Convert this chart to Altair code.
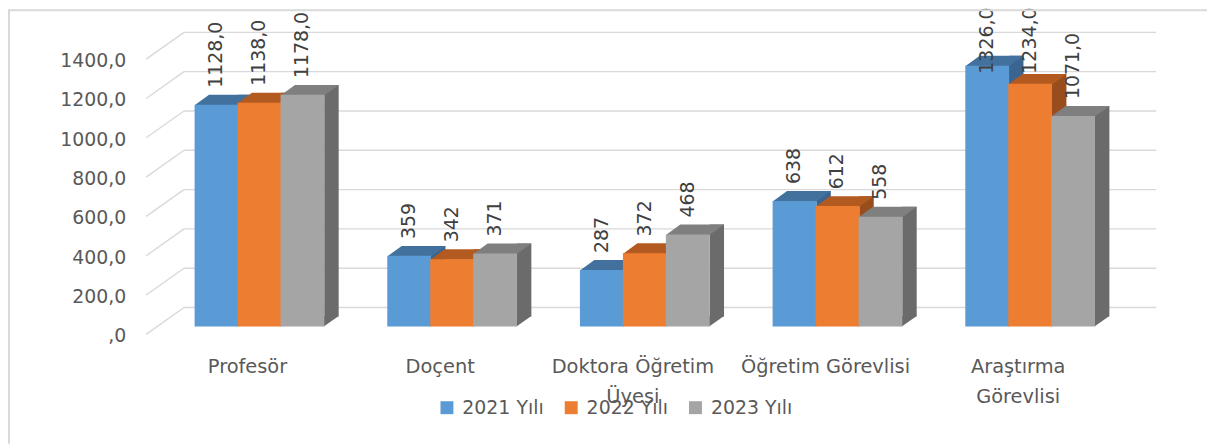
import altair as alt
import pandas as pd

# ---------------- data ----------------
categories = ["Profesör", "Doçent", "Doktora Öğretim Üyesi", "Öğretim Görevlisi", "Araştırma Görevlisi"]
category_labels = ["Profesör", "Doçent", "Doktora Öğretim\nÜyesi", "Öğretim Görevlisi", "Araştırma\nGörevlisi"]
years = ["2021 Yılı", "2022 Yılı", "2023 Yılı"]
values_2021 = [1128, 359, 287, 638, 1326]
values_2022 = [1138, 342, 372, 612, 1234]
values_2023 = [1178, 371, 468, 558, 1071]
labels_2021 = ["1128,0", "359", "287", "638", "1326,0"]
labels_2022 = ["1138,0", "342", "372", "612", "1234,0"]
labels_2023 = ["1178,0", "371", "468", "558", "1071,0"]
y_ticks = [0, 200, 400, 600, 800, 1000, 1200, 1400]
y_tick_labels = [",0", "200,0", "400,0", "600,0", "800,0", "1000,0", "1200,0", "1400,0"]

rows = []
for yi, (yr, vals, labs) in enumerate(zip(years, [values_2021, values_2022, values_2023],
                                           [labels_2021, labels_2022, labels_2023])):
    for ci, (cat, v, lab) in enumerate(zip(categories, vals, labs)):
        rows.append({"cat": cat, "ci": ci, "year": yr, "yi": yi, "value": v, "label": lab})
df = pd.DataFrame(rows)
cat_df = pd.DataFrame({"ci": list(range(len(categories))), "label": category_labels})
tick_df = pd.DataFrame({"tick": y_ticks, "label": y_tick_labels})

# ---------------- styles ----------------
W, H = 1206, 437
FONT = "DejaVu Sans"
front_colors = ["#5B9BD5", "#ED7D31", "#A5A5A5"]
top_colors = ["#41719C", "#B35A20", "#7F7F7F"]
side_colors = ["#3A6591", "#9A4D1C", "#6B6B6B"]
GRID = "#D9D9D9"
BAR_W = 44
DX, DY = 14.5, 10
STEP = 0.223

xscale = alt.Scale(domain=[-0.5, 4.5], range=[151, 1130], nice=False, zero=False)
yscale = alt.Scale(domain=[0, 1400], range=[319, 42.2], nice=False, zero=True)

base = alt.Chart(df).transform_calculate(
    xpos=f"datum.ci + (datum.yi - 1) * {STEP}",
    labY="min(datum.value, 1200)",
    zero="0",
)
X = alt.X("xpos:Q", scale=xscale, axis=None)
Y = alt.Y("value:Q", scale=yscale, axis=None)

grid = alt.Chart(tick_df).mark_rule(color=GRID, strokeWidth=1.4, yOffset=-19).encode(
    y=alt.Y("tick:Q", scale=yscale, axis=None), x=alt.value(177), x2=alt.value(1155))
diag = alt.Chart(tick_df).mark_rule(color=GRID, strokeWidth=1.4, yOffset=8, y2Offset=-19).encode(
    y=alt.Y("tick:Q", scale=yscale, axis=None), y2=alt.Y2("tick:Q"),
    x=alt.value(139), x2=alt.value(177))
ylabels = alt.Chart(tick_df).mark_text(align="right", baseline="middle", font=FONT, fontSize=19,
                                       color="#595959", yOffset=10).encode(
    y=alt.Y("tick:Q", scale=yscale, axis=None), x=alt.value(119), text="label:N")

top_path = f"M {-BAR_W/2} 0.6 L {BAR_W/2} 0.6 L {BAR_W/2 + DX} {-DY} L {-BAR_W/2 + DX} {-DY} Z"
patch_path = f"M {BAR_W/2 - 0.5} {-DY - 0.5} L {BAR_W/2 - 0.5} 0 L {BAR_W/2 + DX} {-DY - 0.5} Z"

sides, tops, patches = [], [], []
for i, yr in enumerate(years):
    sub = base.transform_filter(alt.datum.year == yr)
    sides.append(sub.mark_bar(orient="vertical", width=DX, xOffset=BAR_W / 2 + DX / 2,
                              yOffset=-DY, y2Offset=-DY, color=side_colors[i]).encode(
        x=X, y=Y, y2=alt.Y2("zero:Q")))
    tops.append(sub.mark_point(shape=top_path, size=4, filled=True, opacity=1, strokeWidth=0,
                               color=top_colors[i]).encode(x=X, y=Y))
    patches.append(sub.mark_point(shape=patch_path, size=4, filled=True, opacity=1, strokeWidth=0,
                                  color=side_colors[i]).encode(
        x=X, y=alt.Y("zero:Q", scale=yscale, axis=None)))

fronts = base.mark_bar(orient="vertical", width=BAR_W).encode(
    x=X, y=Y, y2=alt.Y2("zero:Q"),
    color=alt.Color("year:N", scale=alt.Scale(domain=years, range=front_colors),
                    legend=alt.Legend(orient="none", legendX=432, legendY=391, direction="horizontal",
                                      title=None, symbolType="square", symbolSize=169,
                                      symbolStrokeWidth=0, labelFont=FONT, labelFontSize=19,
                                      labelColor="#595959", labelOffset=6, columnPadding=18,
                                      padding=0)))

vlabels = base.mark_text(angle=270, align="left", baseline="middle", font=FONT, fontSize=19,
                         color="#404040", yOffset=-17).encode(
    x=X, y=alt.Y("labY:Q", scale=yscale, axis=None), text="label:N")

catlabels = alt.Chart(cat_df).mark_text(align="center", baseline="alphabetic", font=FONT, fontSize=19.5,
                                        color="#595959", lineBreak="\n", lineHeight=30,
                                        xOffset=-12).encode(
    x=alt.X("ci:Q", scale=xscale, axis=None), y=alt.value(366), text="label:N")

frame_df = pd.DataFrame({"f": [0]})
border_l = alt.Chart(frame_df).mark_rule(color=GRID, strokeWidth=2).encode(
    x=alt.value(1), y=alt.value(0), y2=alt.value(H))
border_t = alt.Chart(frame_df).mark_rule(color=GRID, strokeWidth=2).encode(
    x=alt.value(0), x2=alt.value(W), y=alt.value(1))

chart = alt.layer(grid, diag, ylabels, *sides, *tops, *patches, fronts, vlabels, catlabels,
                  border_l, border_t).properties(
    width=W, height=H, autosize=alt.AutoSizeParams(type="none"), padding=0
).configure_view(strokeWidth=0)

chart.save("out.html", embed_options={"renderer": "svg", "actions": False})
